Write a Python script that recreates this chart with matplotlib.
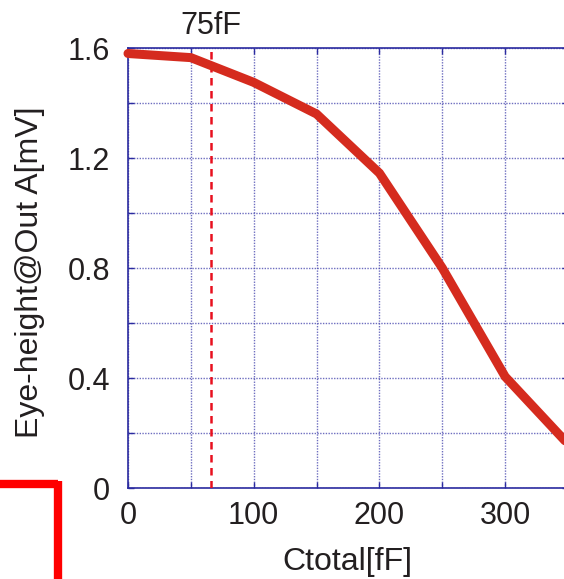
import matplotlib
matplotlib.use("Agg")
import matplotlib.pyplot as plt
from matplotlib.lines import Line2D
from matplotlib.ticker import MultipleLocator, FixedLocator

plt.rcParams['font.family'] = ['Liberation Sans', 'DejaVu Sans']

# Data
ctotal = [0, 50, 100, 150, 200, 250, 300, 350]
eye_height = [1.58, 1.565, 1.475, 1.36, 1.145, 0.80, 0.405, 0.16]
marker_x = 66
marker_label = "75fF"
x_ticks = [0, 100, 200, 300]
x_ticklabels = ["0", "100", "200", "300"]
y_ticks = [0, 0.4, 0.8, 1.2, 1.6]
y_ticklabels = ["0", "0.4", "0.8", "1.2", "1.6"]

W, H = 564, 579
fig = plt.figure(figsize=(W / 100, H / 100), dpi=100)
ax = fig.add_axes([128 / W, (H - 488) / H, 440 / W, 440 / H])

blue = "#2b2ba0"
txt = "#231f20"
ax.set_xlim(0, 350)
ax.set_ylim(0, 1.6)

ax.xaxis.set_major_locator(FixedLocator(x_ticks))
ax.set_xticklabels(x_ticklabels)
ax.yaxis.set_major_locator(FixedLocator(y_ticks))
ax.set_yticklabels(y_ticklabels)
ax.xaxis.set_minor_locator(MultipleLocator(50))
ax.yaxis.set_minor_locator(MultipleLocator(0.2))

ax.grid(True, which="both", color="#4a4ab0", linestyle=(0, (1, 1)), linewidth=1.0, alpha=0.8)
ax.set_axisbelow(True)
for s in ax.spines.values():
    s.set_color(blue)
    s.set_linewidth(1.2)

ax.tick_params(which="both", direction="in", length=4, width=1, color=blue,
               top=True, right=True, labelsize=22, labelcolor=txt)
ax.tick_params(axis="y", pad=13)
ax.tick_params(axis="x", pad=9)

ax.plot(ctotal, eye_height, color="#d52b1e", linewidth=6.5, solid_capstyle="round",
        solid_joinstyle="miter", zorder=5, clip_on=False)
ax.plot([marker_x, marker_x], [0, 1.6], color="#e8101e", linestyle=(0, (3, 2.2)),
        linewidth=1.8, zorder=4)
ax.text(marker_x, 1.625, marker_label, ha="center", va="bottom", fontsize=22, color=txt)

ax.set_xlabel("Ctotal[fF]", fontsize=23, color=txt, va="center")
ax.set_ylabel("Eye-height@Out A[mV]", fontsize=23, color=txt, va="center")
ax.xaxis.set_label_coords(0.498, -0.168)
ax.yaxis.set_label_coords(-0.223, 0.491)

# red L-shaped annotation mark at lower left
fig.add_artist(Line2D([0, 58 / W], [(H - 484) / H, (H - 484) / H], color="#ff0000",
                      linewidth=6, transform=fig.transFigure, solid_capstyle="butt"))
fig.add_artist(Line2D([58 / W, 58 / W], [(H - 484) / H + 3 / H, 0], color="#ff0000",
                      linewidth=6, transform=fig.transFigure, solid_capstyle="butt"))

fig.savefig("out.png", dpi=100)
